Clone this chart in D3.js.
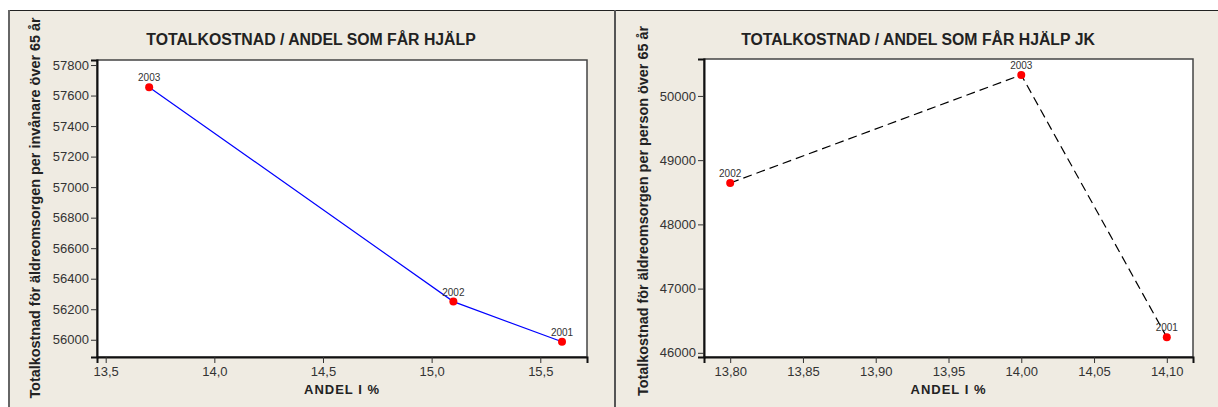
<!DOCTYPE html>
<html>
<head>
<meta charset="utf-8">
<script src="https://cdn.jsdelivr.net/npm/d3@7"></script>
<style>
  body { margin: 0; background: #fff; }
  svg { display: block; font-family: "Liberation Sans", Arial, sans-serif; }
  .tick text { font-size: 13px; fill: #333; }
  .pt-label { font-size: 10px; fill: #333; }
  .title { font-size: 15.8px; font-weight: bold; fill: #222; }
  .axis-title { font-size: 13px; font-weight: bold; fill: #222; }
  .y-title { font-size: 14.4px; font-weight: bold; fill: #222; }
</style>
</head>
<body>
<svg id="chart" width="1218" height="407"></svg>
<script>
// left chart: total cost per inhabitant over 65
var leftYears = ["2003", "2002", "2001"];
var leftShare = [13.7, 15.1, 15.6];
var leftCost = [57655, 56250, 55987];
var leftXTicks = [13.5, 14.0, 14.5, 15.0, 15.5];
var leftYTicks = [56000, 56200, 56400, 56600, 56800, 57000, 57200, 57400, 57600, 57800];

// right chart: total cost per person over 65 (JK)
var rightYears = ["2002", "2003", "2001"];
var rightShare = [13.80, 14.00, 14.10];
var rightCost = [48645, 50327, 46243];
var rightXTicks = [13.80, 13.85, 13.90, 13.95, 14.00, 14.05, 14.10];
var rightYTicks = [46000, 47000, 48000, 49000, 50000];

var svg = d3.select('#chart');
var bg = '#efebe2';

// panel backgrounds and frame lines
svg.append('rect').attr('x', 8).attr('y', 10).attr('width', 1210).attr('height', 397).attr('fill', bg);
svg.append('line').attr('x1', 8).attr('x2', 1218).attr('y1', 10.5).attr('y2', 10.5).attr('stroke', '#222');
svg.append('line').attr('x1', 9).attr('x2', 9).attr('y1', 10).attr('y2', 407).attr('stroke', '#666').attr('stroke-width', 2);
svg.append('line').attr('x1', 615).attr('x2', 615).attr('y1', 10).attr('y2', 407).attr('stroke', '#555').attr('stroke-width', 2);

function drawPanel(cfg) {
  var g = svg.append('g');
  var p = cfg.plot;

  var x = d3.scaleLinear().domain(cfg.xDomain).range([p.left, p.right]);
  var y = d3.scaleLinear().domain(cfg.yDomain).range([p.bottom, p.top]);

  g.append('rect')
    .attr('x', p.left).attr('y', p.top)
    .attr('width', p.right - p.left).attr('height', p.bottom - p.top)
    .attr('fill', '#fff').attr('stroke', '#444').attr('stroke-width', 1.5);

  var xAxis = g.append('g')
    .attr('transform', 'translate(0,' + p.bottom + ')')
    .call(d3.axisBottom(x).tickValues(cfg.xTicks).tickSize(6).tickPadding(4)
      .tickFormat(function(d) { return d3.format(cfg.xFormat)(d).replace('.', ','); }));
  var yAxis = g.append('g')
    .attr('transform', 'translate(' + p.left + ',0)')
    .call(d3.axisLeft(y).tickValues(cfg.yTicks).tickSize(6).tickPadding(2)
      .tickFormat(d3.format('d')));

  [xAxis, yAxis].forEach(function(a) {
    a.select('.domain').attr('stroke', '#111').attr('stroke-width', 2);
    a.selectAll('.tick line').attr('stroke', '#333');
    a.attr('font-family', null).attr('font-size', null);
  });

  var pts = cfg.years.map(function(yr, i) {
    return {year: yr, x: cfg.xs[i], y: cfg.ys[i]};
  });

  var line = d3.line().x(function(d) { return x(d.x); }).y(function(d) { return y(d.y); });
  g.append('path').datum(pts)
    .attr('d', line)
    .attr('fill', 'none')
    .attr('stroke', cfg.lineColor)
    .attr('stroke-width', 1.2)
    .attr('stroke-dasharray', cfg.dash);

  g.selectAll('circle.pt').data(pts).enter().append('circle')
    .attr('class', 'pt')
    .attr('cx', function(d) { return x(d.x); })
    .attr('cy', function(d) { return y(d.y); })
    .attr('r', 4)
    .attr('fill', '#ff0000');

  g.selectAll('text.pt-label').data(pts).enter().append('text')
    .attr('class', 'pt-label')
    .attr('x', function(d) { return x(d.x); })
    .attr('y', function(d) { return y(d.y) - 6; })
    .attr('text-anchor', 'middle')
    .text(function(d) { return d.year; });

  g.append('text').attr('class', 'title')
    .attr('x', cfg.titleX).attr('y', 45)
    .attr('text-anchor', 'middle')
    .text(cfg.title);

  g.append('text').attr('class', 'axis-title')
    .attr('x', (p.left + p.right) / 2).attr('y', 394)
    .attr('text-anchor', 'middle')
    .attr('letter-spacing', 1)
    .text(cfg.xTitle);

  g.append('text').attr('class', 'y-title')
    .attr('transform', 'translate(' + cfg.yTitleX + ',' + cfg.yTitleY + ') rotate(-90)')
    .attr('text-anchor', 'middle')
    .text(cfg.yTitle);
}

drawPanel({
  plot: {left: 97, right: 587, top: 60, bottom: 357},
  xDomain: [13.46, 15.715],
  yDomain: [55887, 57833],
  xTicks: leftXTicks, yTicks: leftYTicks, xFormat: '.1f',
  years: leftYears, xs: leftShare, ys: leftCost,
  lineColor: '#0000ff', dash: null,
  title: 'TOTALKOSTNAD / ANDEL SOM FÅR HJÄLP', titleX: 311,
  xTitle: 'ANDEL I %',
  yTitle: 'Totalkostnad för äldreomsorgen per invånare över 65 år', yTitleX: 40, yTitleY: 208
});

drawPanel({
  plot: {left: 704, right: 1193, top: 59, bottom: 357},
  xDomain: [13.782, 14.118],
  yDomain: [45935, 50575],
  xTicks: rightXTicks, yTicks: rightYTicks, xFormat: '.2f',
  years: rightYears, xs: rightShare, ys: rightCost,
  lineColor: '#000', dash: '9,5',
  title: 'TOTALKOSTNAD / ANDEL SOM FÅR HJÄLP JK', titleX: 918,
  xTitle: 'ANDEL I %',
  yTitle: 'Totalkostnad för äldreomsorgen per person över 65 år', yTitleX: 648, yTitleY: 211
});
</script>
</body>
</html>
